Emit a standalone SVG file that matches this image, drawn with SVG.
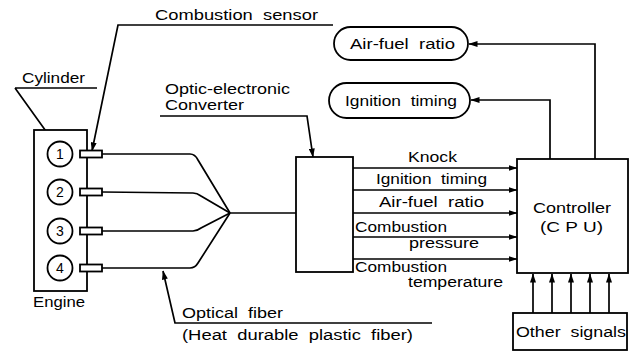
<svg xmlns="http://www.w3.org/2000/svg" width="634" height="352" viewBox="0 0 634 352">
<style>
.s{fill:none;stroke:#000;stroke-width:1.7}
.b{fill:#fff;stroke:#000;stroke-width:1.8}
.t{font-family:"Liberation Sans","DejaVu Sans",sans-serif;font-size:14px;fill:#000;white-space:pre}
.m{text-anchor:middle}
</style>
<defs>
<marker id="ah" markerWidth="9" markerHeight="6" refX="8.5" refY="3" orient="auto" markerUnits="userSpaceOnUse">
<path d="M0,0 L9,3 L0,6 z" fill="#000"/>
</marker>
</defs>
<rect width="634" height="352" fill="#fff"/>

<g id="connectors">
<path class="s" d="M102,154 L190,154 Q195,154 198,160 L230,213"/>
<path class="s" d="M102,192 L193,193 Q197,193 201,196 L230,213"/>
<path class="s" d="M102,231 L193,231 Q197,231 201,228 L230,213"/>
<path class="s" d="M102,268 L190,268 Q195,268 198,263 L230,213"/>
<path class="s" d="M230,213 L296,213"/>
<path class="s" d="M353,168 L517,168" marker-end="url(#ah)"/>
<path class="s" d="M353,190 L517,190" marker-end="url(#ah)"/>
<path class="s" d="M353,213 L517,213" marker-end="url(#ah)"/>
<path class="s" d="M353,237 L517,237" marker-end="url(#ah)"/>
<path class="s" d="M353,259 L517,259" marker-end="url(#ah)"/>
<path class="s" d="M595,159 L595,44 L469,44" marker-end="url(#ah)"/>
<path class="s" d="M550,159 L550,100 L471,100" marker-end="url(#ah)"/>
<path class="s" d="M533,313 L533,274" marker-end="url(#ah)"/>
<path class="s" d="M552,313 L552,274" marker-end="url(#ah)"/>
<path class="s" d="M571,313 L571,274" marker-end="url(#ah)"/>
<path class="s" d="M590,313 L590,274" marker-end="url(#ah)"/>
<path class="s" d="M609,313 L609,274" marker-end="url(#ah)"/>
<path class="s" d="M15,88 L97,88 M15,88 L53,141" marker-end="url(#ah)"/>
<path class="s" d="M333,25 L118,25 L92,151" marker-end="url(#ah)"/>
<path class="s" d="M160,116 L307,116 L313,157" marker-end="url(#ah)"/>
<path class="s" d="M432,323 L175,323 L163,271" marker-end="url(#ah)"/>
</g>

<g id="engine">
<rect class="b" x="34" y="130" width="53" height="161"/>
<text class="t" x="33" y="307" textLength="52" lengthAdjust="spacingAndGlyphs">Engine</text>
</g>
<g id="cylinder1">
<circle class="b" cx="60" cy="154" r="12.5"/>
<rect class="b" x="80" y="150.5" width="22" height="7"/>
<text class="t m" x="60" y="159">1</text>
</g>
<g id="cylinder2">
<circle class="b" cx="60" cy="192" r="12.5"/>
<rect class="b" x="80" y="188.5" width="22" height="7"/>
<text class="t m" x="60" y="197">2</text>
</g>
<g id="cylinder3">
<circle class="b" cx="60" cy="231" r="12.5"/>
<rect class="b" x="80" y="227.5" width="22" height="7"/>
<text class="t m" x="60" y="236">3</text>
</g>
<g id="cylinder4">
<circle class="b" cx="60" cy="268" r="12.5"/>
<rect class="b" x="80" y="264.5" width="22" height="7"/>
<text class="t m" x="60" y="273">4</text>
</g>

<g id="label-cylinder"><text class="t" x="22" y="83" textLength="63" lengthAdjust="spacingAndGlyphs">Cylinder</text></g>
<g id="label-sensor"><text class="t" x="155" y="20" textLength="163" lengthAdjust="spacingAndGlyphs">Combustion  sensor</text></g>
<g id="label-converter">
<text class="t" x="165" y="94" textLength="125" lengthAdjust="spacingAndGlyphs">Optic-electronic</text>
<text class="t" x="165" y="110" textLength="79" lengthAdjust="spacingAndGlyphs">Converter</text>
</g>
<g id="label-fiber">
<text class="t" x="182" y="318" textLength="101" lengthAdjust="spacingAndGlyphs">Optical  fiber</text>
<text class="t" x="182" y="340" textLength="231" lengthAdjust="spacingAndGlyphs">(Heat  durable  plastic  fiber)</text>
</g>

<g id="converter"><rect class="b" x="296" y="157" width="57" height="115"/></g>

<g id="signal-labels">
<text class="t" x="408" y="162" textLength="49" lengthAdjust="spacingAndGlyphs">Knock</text>
<text class="t" x="376" y="184" textLength="111" lengthAdjust="spacingAndGlyphs">Ignition  timing</text>
<text class="t" x="379" y="207" textLength="105" lengthAdjust="spacingAndGlyphs">Air-fuel  ratio</text>
<text class="t" x="355" y="232" textLength="92" lengthAdjust="spacingAndGlyphs">Combustion</text>
<text class="t" x="409" y="248" textLength="70" lengthAdjust="spacingAndGlyphs">pressure</text>
<text class="t" x="355" y="272" textLength="92" lengthAdjust="spacingAndGlyphs">Combustion</text>
<text class="t" x="408" y="287" textLength="95" lengthAdjust="spacingAndGlyphs">temperature</text>
</g>

<g id="controller">
<rect class="b" x="517" y="159" width="111" height="114"/>
<text class="t" x="533" y="213" textLength="78" lengthAdjust="spacingAndGlyphs">Controller</text>
<text class="t" x="540" y="232" textLength="63" lengthAdjust="spacingAndGlyphs">(C P U)</text>
</g>

<g id="other-signals">
<rect class="b" x="513" y="313" width="114" height="37"/>
<text class="t" x="516" y="337" textLength="110" lengthAdjust="spacingAndGlyphs">Other  signals</text>
</g>

<g id="air-fuel-ratio">
<rect class="b" x="334" y="27" width="134" height="33" rx="16.5"/>
<text class="t" x="350" y="49" textLength="105" lengthAdjust="spacingAndGlyphs">Air-fuel  ratio</text>
</g>

<g id="ignition-timing">
<rect class="b" x="329" y="83" width="141" height="35" rx="17.5"/>
<text class="t" x="345" y="106" textLength="112" lengthAdjust="spacingAndGlyphs">Ignition  timing</text>
</g>
</svg>
